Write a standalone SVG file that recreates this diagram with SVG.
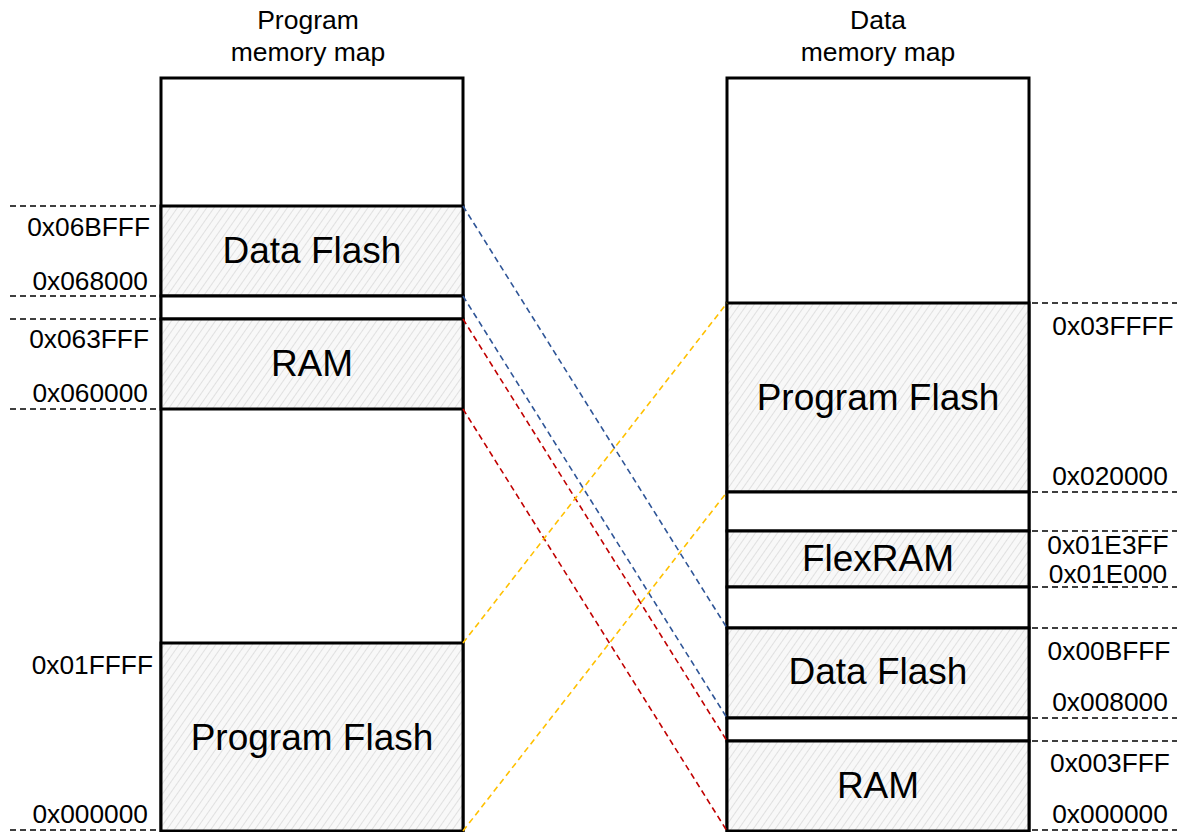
<svg xmlns="http://www.w3.org/2000/svg" width="1177" height="832" viewBox="0 0 1177 832">
  <defs>
    <!-- light diagonal hatch used for occupied memory regions -->
    <pattern id="hatch" width="6" height="6" patternUnits="userSpaceOnUse" patternTransform="rotate(35)">
      <rect width="6" height="6" fill="#f8f8f8"/>
      <line x1="0" y1="0" x2="0" y2="6" stroke="#d4d4d4" stroke-width="1.3"/>
    </pattern>
  </defs>
  <style>
    .frame { fill: #ffffff; stroke: #000; stroke-width: 3; }
    .region { fill: url(#hatch); stroke: #000; stroke-width: 3; }
    .gap { fill: #ffffff; stroke: #000; stroke-width: 3; }
    .lead { stroke: #000; stroke-width: 1.6; stroke-dasharray: 6 4; fill: none; }
    .conn { stroke-width: 1.6; stroke-dasharray: 6 4; fill: none; }
    .blue { stroke: #2F5597; }
    .red { stroke: #C00000; }
    .orange { stroke: #FFC000; }
    text { font-family: "Liberation Sans", Arial, sans-serif; fill: #000; }
    .title { font-size: 26.5px; text-anchor: middle; }
    .big { font-size: 37px; text-anchor: middle; }
    .addrL { font-size: 26.3px; text-anchor: end; }
    .addrR { font-size: 26.3px; text-anchor: middle; }
  </style>

  <!-- Program memory map -->
  <g id="program-map">
    <text class="title" x="308" y="29">Program</text>
    <text class="title" x="308" y="61">memory map</text>
    <rect class="frame" x="161" y="78" width="302" height="753"/>
    <rect class="region" x="161" y="206" width="302" height="90"/>
    <rect class="gap" x="161" y="296" width="302" height="23"/>
    <rect class="region" x="161" y="319" width="302" height="90"/>
    <rect class="region" x="161" y="643" width="302" height="188"/>
    <text class="big" x="312" y="263">Data Flash</text>
    <text class="big" x="312" y="376">RAM</text>
    <text class="big" x="312" y="750">Program Flash</text>
  </g>

  <g id="program-addresses">
    <line class="lead" x1="10" y1="206" x2="160" y2="206"/>
    <line class="lead" x1="10" y1="296" x2="160" y2="296"/>
    <line class="lead" x1="10" y1="319" x2="160" y2="319"/>
    <line class="lead" x1="10" y1="409" x2="160" y2="409"/>
    <line class="lead" x1="10" y1="830" x2="160" y2="830" stroke="#999"/>
    <text class="addrL" x="150" y="236">0x06BFFF</text>
    <text class="addrL" x="148" y="290">0x068000</text>
    <text class="addrL" x="149" y="348">0x063FFF</text>
    <text class="addrL" x="148" y="402">0x060000</text>
    <text class="addrL" x="153" y="674">0x01FFFF</text>
    <text class="addrL" x="148" y="823">0x000000</text>
  </g>

  <!-- Data memory map -->
  <g id="data-map">
    <text class="title" x="878" y="29">Data</text>
    <text class="title" x="878" y="61">memory map</text>
    <rect class="frame" x="727" y="78" width="302" height="753"/>
    <rect class="region" x="727" y="303" width="302" height="189"/>
    <rect class="gap" x="727" y="492" width="302" height="39"/>
    <rect class="region" x="727" y="531" width="302" height="56"/>
    <rect class="gap" x="727" y="587" width="302" height="41"/>
    <rect class="region" x="727" y="628" width="302" height="90"/>
    <rect class="gap" x="727" y="718" width="302" height="23"/>
    <rect class="region" x="727" y="741" width="302" height="90"/>
    <text class="big" x="878" y="410">Program Flash</text>
    <text class="big" x="878" y="571">FlexRAM</text>
    <text class="big" x="878" y="684">Data Flash</text>
    <text class="big" x="878" y="798">RAM</text>
  </g>

  <g id="data-addresses">
    <line class="lead" x1="1032" y1="303" x2="1177" y2="303"/>
    <line class="lead" x1="1032" y1="492" x2="1177" y2="492"/>
    <line class="lead" x1="1032" y1="531" x2="1177" y2="531"/>
    <line class="lead" x1="1032" y1="587" x2="1177" y2="587"/>
    <line class="lead" x1="1032" y1="628" x2="1177" y2="628"/>
    <line class="lead" x1="1032" y1="718" x2="1177" y2="718"/>
    <line class="lead" x1="1032" y1="741" x2="1177" y2="741"/>
    <line class="lead" x1="1032" y1="830" x2="1177" y2="830" stroke="#999"/>
    <text class="addrR" x="1113" y="335">0x03FFFF</text>
    <text class="addrR" x="1110" y="485">0x020000</text>
    <text class="addrR" x="1108" y="554">0x01E3FF</text>
    <text class="addrR" x="1108" y="583">0x01E000</text>
    <text class="addrR" x="1109" y="660">0x00BFFF</text>
    <text class="addrR" x="1110" y="711">0x008000</text>
    <text class="addrR" x="1110" y="772">0x003FFF</text>
    <text class="addrR" x="1110" y="823">0x000000</text>
  </g>

  <!-- address-range correspondences between the two maps -->
  <g id="connectors">
    <line class="conn blue" x1="463" y1="206" x2="727" y2="628"/>
    <line class="conn blue" x1="463" y1="296" x2="727" y2="718"/>
    <line class="conn red" x1="463" y1="319" x2="727" y2="741"/>
    <line class="conn red" x1="463" y1="409" x2="727" y2="831"/>
    <line class="conn orange" x1="463" y1="643" x2="727" y2="303"/>
    <line class="conn orange" x1="463" y1="831" x2="727" y2="492"/>
  </g>
</svg>
